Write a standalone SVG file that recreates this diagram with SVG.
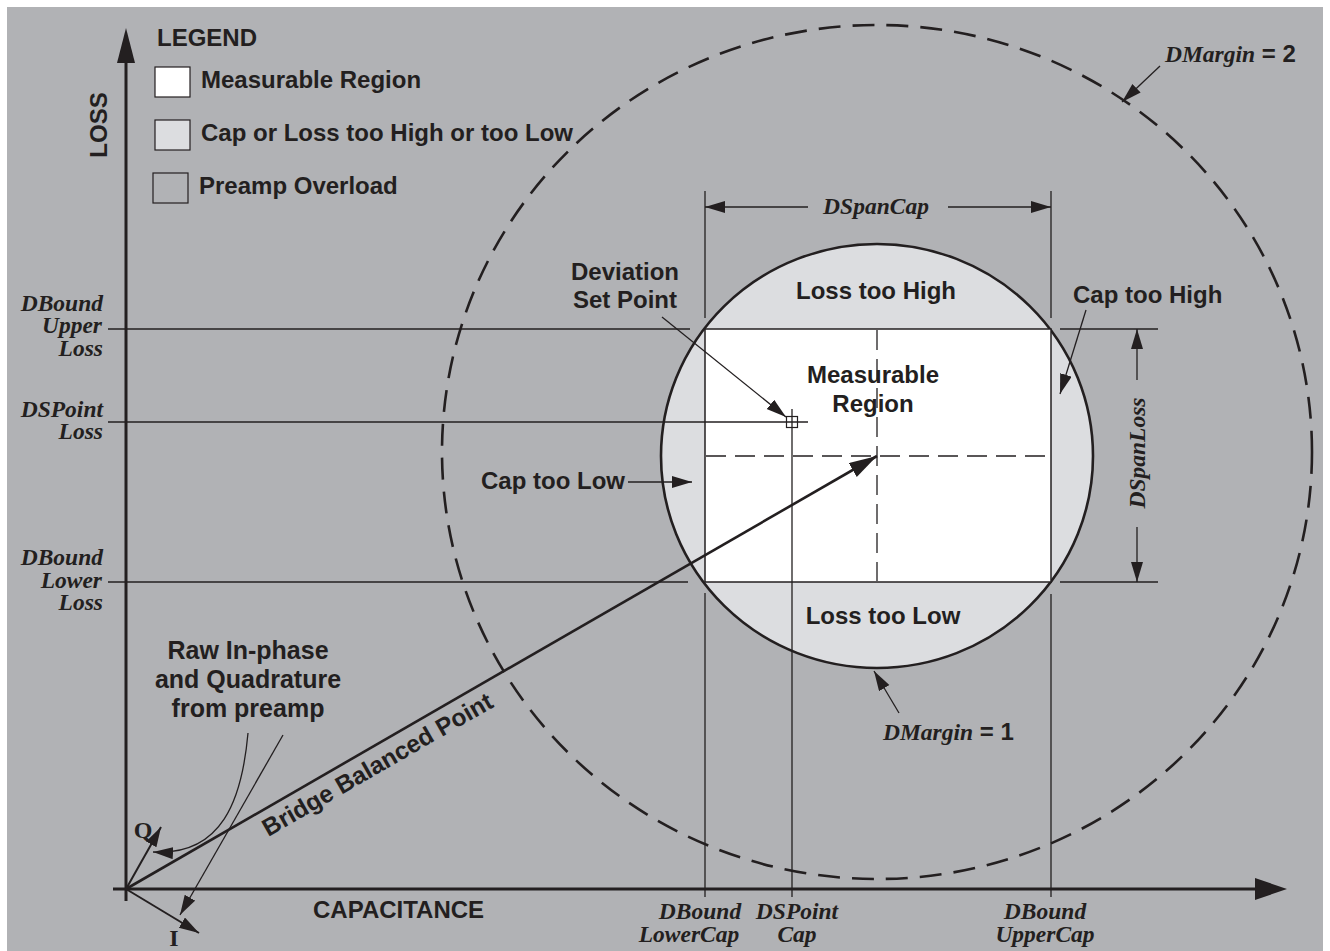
<svg xmlns="http://www.w3.org/2000/svg" width="1330" height="951" viewBox="0 0 1330 951">
<defs>
<style>
.sans{font-family:"Liberation Sans",Arial,sans-serif;font-weight:bold;fill:#231f20;font-size:24px}
.ser{font-family:"Liberation Serif","Times New Roman",serif;font-weight:bold;font-style:italic;fill:#231f20;font-size:23.5px}
.up{font-family:"Liberation Serif","Times New Roman",serif;font-weight:bold;fill:#231f20;font-size:24px}
.ln{stroke:#231f20;stroke-width:1.3;fill:none}
.thk{stroke:#231f20;stroke-width:2.6;fill:none}
.dash{stroke:#231f20;stroke-width:1.3;stroke-dasharray:20 9;fill:none}
</style>
<marker id="ah" markerUnits="userSpaceOnUse" markerWidth="22" markerHeight="14" refX="20" refY="6" orient="auto"><path d="M0,0 L20,6 L0,12 z" fill="#231f20"/></marker>
<marker id="ahb" markerUnits="userSpaceOnUse" markerWidth="30" markerHeight="20" refX="28" refY="8" orient="auto"><path d="M0,0 L28,8 L0,16 z" fill="#231f20"/></marker>
</defs>
<rect x="0" y="0" width="1330" height="951" fill="#ffffff"/>
<rect x="7" y="7" width="1316" height="944" fill="#b1b2b5"/>

<g id="legend">
<text class="sans" x="157" y="46">LEGEND</text>
<rect x="155" y="67" width="35" height="30" fill="#ffffff" stroke="#231f20" stroke-width="1.2"/>
<text class="sans" x="201" y="88">Measurable Region</text>
<rect x="155" y="120" width="35" height="30" fill="#dcdde0" stroke="#231f20" stroke-width="1.2"/>
<text class="sans" x="201" y="141">Cap or Loss too High or too Low</text>
<rect x="153" y="173" width="35" height="30" fill="#b1b2b5" stroke="#231f20" stroke-width="1.2"/>
<text class="sans" x="199" y="194">Preamp Overload</text>
</g>

<g id="margin2">
<ellipse cx="877" cy="452" rx="435" ry="427" fill="none" stroke="#231f20" stroke-width="2.6" stroke-dasharray="22 12"/>
</g>

<g id="guides">
<line class="ln" x1="108" y1="329" x2="690" y2="329"/>
<line class="ln" x1="1060" y1="329" x2="1158" y2="329"/>
<line class="ln" x1="108" y1="582" x2="688" y2="582"/>
<line class="ln" x1="1060" y1="582" x2="1158" y2="582"/>
<line class="ln" x1="705" y1="191" x2="705" y2="318"/>
<line class="ln" x1="705" y1="593" x2="705" y2="897"/>
<line class="ln" x1="1051" y1="191" x2="1051" y2="318"/>
<line class="ln" x1="1051" y1="594" x2="1051" y2="897"/>
</g>

<g id="margin1">
<ellipse cx="877" cy="456" rx="216" ry="212" fill="#dcdde0" stroke="#231f20" stroke-width="2.6"/>
</g>

<g id="measurable">
<rect x="705" y="329" width="346" height="253" fill="#ffffff" stroke="#231f20" stroke-width="1.5"/>
<line class="dash" x1="877" y1="330" x2="877" y2="581"/>
<line class="dash" x1="706" y1="456" x2="1050" y2="456"/>
<text class="sans" x="873" y="383" text-anchor="middle">Measurable</text>
<text class="sans" x="873" y="412" text-anchor="middle">Region</text>
</g>

<g id="setpoint">
<line class="ln" x1="108" y1="422" x2="808" y2="422"/>
<line class="ln" x1="792" y1="409" x2="792" y2="897"/>
<rect x="786.5" y="416.5" width="11" height="11" fill="none" stroke="#231f20" stroke-width="1.2"/>
</g>

<g id="regions">
<text class="sans" x="876" y="299" text-anchor="middle">Loss too High</text>
<text class="sans" x="883" y="624" text-anchor="middle">Loss too Low</text>
<text class="sans" x="1073" y="303">Cap too High</text>
<text class="sans" x="481" y="489">Cap too Low</text>
<text class="sans" x="625" y="280" text-anchor="middle">Deviation</text>
<text class="sans" x="625" y="308" text-anchor="middle">Set Point</text>
</g>

<g id="axes">
<line x1="126" y1="901" x2="126" y2="55" stroke="#231f20" stroke-width="3"/>
<polygon points="126,28 117,63 135,63" fill="#231f20"/>
<line x1="113" y1="889" x2="1260" y2="889" stroke="#231f20" stroke-width="3"/>
<polygon points="1287,889 1255,878 1255,900" fill="#231f20"/>
<text class="sans" transform="translate(107,125) rotate(-90)" text-anchor="middle">LOSS</text>
<text class="sans" x="313" y="918">CAPACITANCE</text>
<text class="up" x="143" y="838" text-anchor="middle">Q</text>
<text class="up" x="174" y="946" text-anchor="middle">I</text>
</g>

<g id="labels">
<text class="ser" text-anchor="end" x="103" y="311">DBound</text>
<text class="ser" text-anchor="end" x="102" y="333">Upper</text>
<text class="ser" text-anchor="end" x="103" y="356">Loss</text>
<text class="ser" text-anchor="end" x="103" y="417">DSPoint</text>
<text class="ser" text-anchor="end" x="103" y="439">Loss</text>
<text class="ser" text-anchor="end" x="103" y="565">DBound</text>
<text class="ser" text-anchor="end" x="102" y="588">Lower</text>
<text class="ser" text-anchor="end" x="103" y="610">Loss</text>
<text class="ser" text-anchor="middle" x="700" y="919">DBound</text>
<text class="ser" text-anchor="middle" x="689" y="942">LowerCap</text>
<text class="ser" text-anchor="middle" x="797" y="919">DSPoint</text>
<text class="ser" text-anchor="middle" x="797" y="942">Cap</text>
<text class="ser" text-anchor="middle" x="1045" y="919">DBound</text>
<text class="ser" text-anchor="middle" x="1045" y="942">UpperCap</text>
<text class="ser" text-anchor="middle" x="876" y="214">DSpanCap</text>
<text class="ser" text-anchor="middle" transform="translate(1145,453) rotate(-90)">DSpanLoss</text>
<text x="1165" y="62"><tspan class="ser">DMargin</tspan><tspan class="sans"> = 2</tspan></text>
<text x="883" y="740"><tspan class="ser">DMargin</tspan><tspan class="sans"> = 1</tspan></text>
<text class="sans" x="248" y="659" text-anchor="middle" style="font-size:25px">Raw In-phase</text>
<text class="sans" x="248" y="688" text-anchor="middle" style="font-size:25px">and Quadrature</text>
<text class="sans" x="248" y="717" text-anchor="middle" style="font-size:25px">from preamp</text>
<text class="sans" text-anchor="middle" style="font-size:24.5px" transform="translate(126,889) rotate(-29.97) translate(280,26)">Bridge Balanced Point</text>
</g>

<g id="connectors">
<line class="ln" x1="808" y1="207" x2="705" y2="207" marker-end="url(#ah)"/>
<line class="ln" x1="948" y1="207" x2="1051" y2="207" marker-end="url(#ah)"/>
<line class="ln" x1="1137" y1="380" x2="1137" y2="329" marker-end="url(#ah)"/>
<line class="ln" x1="1137" y1="527" x2="1137" y2="582" marker-end="url(#ah)"/>
<line class="ln" x1="662" y1="317" x2="786" y2="417" marker-end="url(#ah)"/>
<line class="ln" x1="628" y1="482" x2="692" y2="482" marker-end="url(#ah)"/>
<line class="ln" x1="1086" y1="310" x2="1060" y2="394" marker-end="url(#ah)"/>
<line class="ln" x1="1160" y1="66" x2="1122" y2="102" marker-end="url(#ah)"/>
<line class="ln" x1="899" y1="713" x2="874" y2="671" marker-end="url(#ah)"/>
<line class="thk" x1="126" y1="889" x2="877" y2="456" marker-end="url(#ahb)"/>
<line x1="126" y1="889" x2="161" y2="827" stroke="#231f20" stroke-width="2" marker-end="url(#ah)"/>
<line x1="126" y1="889" x2="199" y2="933" stroke="#231f20" stroke-width="2" marker-end="url(#ah)"/>
<path class="ln" d="M248,733 C242,800 222,856 153,852" stroke-width="1.8" marker-end="url(#ah)"/>
<line class="ln" x1="283" y1="735" x2="180" y2="915" stroke-width="1.8" marker-end="url(#ah)"/>
</g>
</svg>
